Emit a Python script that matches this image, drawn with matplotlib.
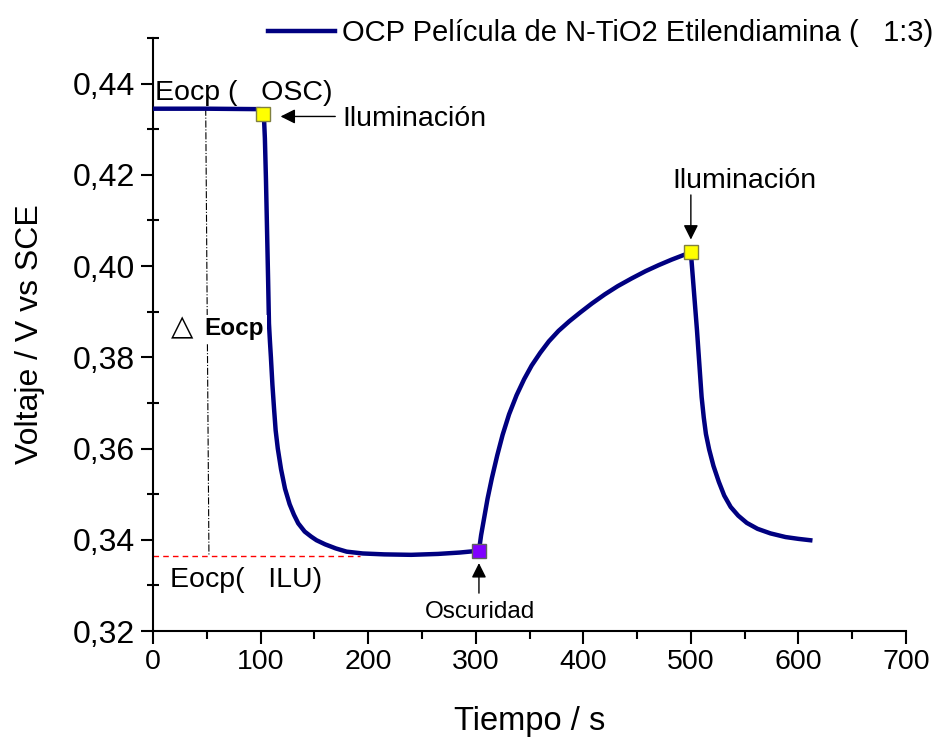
import matplotlib
matplotlib.use('Agg')
import matplotlib.pyplot as plt
from matplotlib.ticker import MultipleLocator, FuncFormatter

## Data ##
tiempo = [0, 50, 100, 102, 103, 104, 105, 106, 107, 107.8, 108.7, 109.6, 111, 112.5, 114, 116,
          119, 122.7, 127, 131, 135, 141, 147, 152, 160, 170, 180, 195, 215, 240, 265, 285, 303,
          305, 308, 311, 315, 320, 325, 331, 338, 345, 352, 360, 368, 377, 387, 397, 408,
          420, 432, 445, 458, 470, 482, 493, 500,
          502.5, 505.7, 510, 512, 514, 517, 521, 526, 531, 537, 544, 552, 562, 574, 588,
          600, 611]
voltaje = [0.4345, 0.4345, 0.4344, 0.4336, 0.4334, 0.428, 0.419, 0.408, 0.397, 0.3874,
           0.3835, 0.3800, 0.3740, 0.3688, 0.3640, 0.3600,
           0.3555, 0.3512, 0.3478, 0.3455, 0.3436, 0.3418, 0.3407, 0.3399, 0.3390, 0.3381,
           0.3374, 0.3370, 0.3368, 0.3367, 0.3369, 0.3372, 0.3376,
           0.3410, 0.3450, 0.3490, 0.3535, 0.3585, 0.3630, 0.3675, 0.3717, 0.3752, 0.3782,
           0.3810, 0.3835, 0.3858, 0.3879, 0.3898, 0.3918,
           0.3938, 0.3956, 0.3973, 0.3989, 0.4002, 0.4014, 0.4024, 0.4030,
           0.3955, 0.3859, 0.3713, 0.3668, 0.3632, 0.3598, 0.3562, 0.3527, 0.3497, 0.3472,
           0.3453, 0.3437, 0.3424, 0.3414, 0.3406, 0.3402, 0.3399]

marcas_x = [102, 500]
marcas_y = [0.4334, 0.4030]
oscuridad_x = [303]
oscuridad_y = [0.3376]

eocp_osc = 0.4345
eocp_ilu = 0.3365

leyenda = 'OCP Película de N-TiO2 Etilendiamina (   1:3)'

plt.rcParams['font.family'] = 'Liberation Sans'

fig = plt.figure(figsize=(9.48, 7.45), dpi=100)
ax = fig.add_axes([0.1614, 0.153, 0.7943, 0.796])

ax.plot(tiempo, voltaje, color='#000080', lw=3.2, label=leyenda, zorder=3)
ax.plot(marcas_x, marcas_y, 's', color='#FFFF00', mec='#808040', ms=10, mew=1, zorder=4)
ax.plot(oscuridad_x, oscuridad_y, 's', color='#8000FF', mec='#606060', ms=10, mew=1, zorder=4)

# reference lines
ax.plot([0, 192], [eocp_ilu, eocp_ilu], color='red', lw=1, ls=(0, (4, 3)), zorder=2)
ax.plot([49, 52], [eocp_osc, eocp_ilu], color='black', lw=0.8, ls='-.', zorder=1)

# annotations
fs = 20.5
ax.text(2, 0.4363, 'Eocp (   OSC)', fontsize=fs, va='baseline')
ax.text(176, 0.4306, 'Iluminación', fontsize=fs, va='baseline')
ax.annotate('', xy=(116, 0.4328), xytext=(172, 0.4328),
            arrowprops=dict(arrowstyle='-|>', color='black', lw=1, mutation_scale=22))
ax.text(17, 0.3848, '△', fontsize=21, va='baseline', family='DejaVu Sans',
        bbox=dict(facecolor='white', edgecolor='none', pad=0))
ax.text(48, 0.3848, 'Eocp', fontsize=17.5, va='baseline', weight='bold',
        bbox=dict(facecolor='white', edgecolor='none', pad=2), zorder=3)
ax.text(16, 0.3296, 'Eocp(   ILU)', fontsize=fs, va='baseline')
ax.text(304, 0.3229, 'Oscuridad', fontsize=17.5, va='baseline', ha='center')
ax.annotate('', xy=(303, 0.3355), xytext=(303, 0.3277),
            arrowprops=dict(arrowstyle='-|>', color='black', lw=1, mutation_scale=22))
ax.text(550, 0.4172, 'Iluminación', fontsize=fs, va='baseline', ha='center')
ax.annotate('', xy=(500, 0.4052), xytext=(500, 0.4162),
            arrowprops=dict(arrowstyle='-|>', color='black', lw=1, mutation_scale=22))

# axes
ax.set_xlim(0, 700)
ax.set_ylim(0.32, 0.45)
ax.xaxis.set_major_locator(MultipleLocator(100))
ax.xaxis.set_minor_locator(MultipleLocator(50))
ax.yaxis.set_minor_locator(MultipleLocator(0.01))
ax.set_yticks([0.32, 0.34, 0.36, 0.38, 0.40, 0.42, 0.44])
ax.yaxis.set_major_formatter(FuncFormatter(lambda v, p: f'{v:.2f}'.replace('.', ',')))
for s in ['top', 'right']:
    ax.spines[s].set_visible(False)
for s in ['left', 'bottom']:
    ax.spines[s].set_linewidth(1.5)
ax.tick_params(which='major', direction='out', length=9, width=1.5, pad=4)
ax.tick_params(axis='y', which='major', labelsize=23)
ax.tick_params(axis='x', which='major', labelsize=20.5)
ax.tick_params(axis='y', which='minor', direction='inout', length=8, width=1.5)
ax.tick_params(axis='x', which='minor', direction='out', length=6, width=1.5)

ax.set_xlabel('Tiempo / s', fontsize=23.5, labelpad=22)
ax.set_ylabel('Voltaje / V vs SCE', fontsize=23, labelpad=20)

ax.legend(loc='center left', bbox_to_anchor=(0.2827, 0.9557), bbox_transform=fig.transFigure,
          frameon=False, fontsize=21, handlelength=2.3, handletextpad=0.25,
          borderpad=0, borderaxespad=0)

fig.savefig('out.png', dpi=100)
